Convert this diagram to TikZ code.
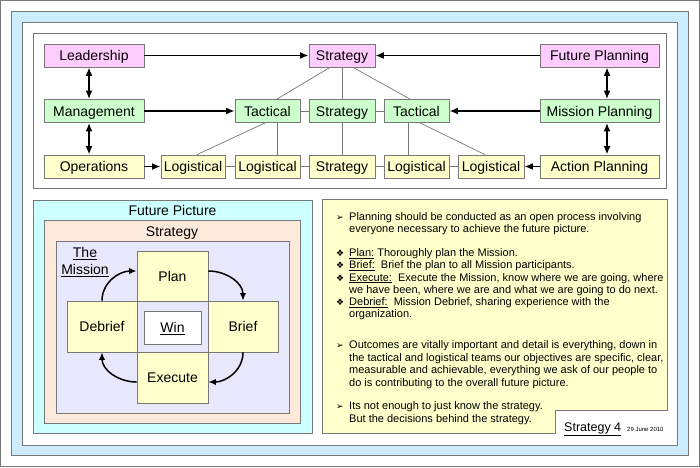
\documentclass[tikz,border=0pt]{standalone}
\usepackage{fontspec}
\setmainfont{Liberation Sans}
\newfontfamily\dejavu{DejaVu Sans}
\usetikzlibrary{arrows.meta}
\definecolor{bord}{RGB}{120,120,120}
\definecolor{pinkF}{RGB}{255,204,255}
\definecolor{greenF}{RGB}{204,255,204}
\definecolor{yellowF}{RGB}{255,255,204}
\definecolor{blueBG}{RGB}{204,236,255}
\definecolor{cyanF}{RGB}{204,255,255}
\definecolor{peachF}{RGB}{253,233,217}
\definecolor{lavF}{RGB}{232,232,252}
\begin{document}
\begin{tikzpicture}[x=1pt,y=1pt,
  box/.style={draw=bord, line width=0.8pt, inner sep=0pt, minimum height=23pt,
    text height=10.4pt, text depth=0pt, font=\fontsize{14}{16}\selectfont},
  cell/.style={draw=bord, line width=0.8pt, inner sep=0pt,
    text height=10.4pt, text depth=0pt, font=\fontsize{14}{16}\selectfont},
  lbl/.style={inner sep=0pt, text height=10.4pt, text depth=0pt, font=\fontsize{14}{16}\selectfont},
  big/.style={line width=1.7pt, -{Latex[length=8.5pt,width=7pt]}},
  dbl/.style={line width=1.7pt, {Latex[length=8.5pt,width=7pt]}-{Latex[length=8.5pt,width=7pt]}},
  cur/.style={line width=1.5pt, -{Latex[length=7.5pt,width=6.5pt]}},
  thinline/.style={draw=bord, line width=0.7pt},
  txt/.style={anchor=base west, inner sep=0pt, font=\fontsize{11}{13}\selectfont},
  bul/.style={anchor=base west, inner sep=0pt, font=\dejavu\fontsize{9}{11}\selectfont},
]
\useasboundingbox (0,0) rectangle (700,467);
% frames
\draw[bord, fill=white] (0.5,0.5) rectangle (699.5,466.5);
\draw[bord, line width=0.8pt, fill=blueBG] (11.5,12) rectangle (688,455.5);
\draw[bord, line width=0.8pt, fill=white] (22,22) rectangle (677,445);
\draw[bord, line width=0.8pt, fill=white] (33,279) rectangle (666,434);

% top panel nodes
\node[box, fill=pinkF, minimum width=100pt] (lead) at (94,411.5) {Leadership};
\node[box, fill=greenF, minimum width=100pt] (mgmt) at (94,356) {Management};
\node[box, fill=yellowF, minimum width=100pt] (ops) at (94,300.5) {Operations};
\node[box, fill=pinkF, minimum width=66pt] (stT) at (342,411.5) {Strategy};
\node[box, fill=greenF, minimum width=65pt] (tacL) at (267.5,356) {Tactical};
\node[box, fill=greenF, minimum width=66pt] (stM) at (342,356) {Strategy};
\node[box, fill=greenF, minimum width=65pt] (tacR) at (416.5,356) {Tactical};
\node[box, fill=yellowF, minimum width=64pt] (log1) at (193,300.5) {Logistical};
\node[box, fill=yellowF, minimum width=65pt] (log2) at (267.5,300.5) {Logistical};
\node[box, fill=yellowF, minimum width=66pt] (stB) at (342,300.5) {Strategy};
\node[box, fill=yellowF, minimum width=65pt] (log4) at (416.5,300.5) {Logistical};
\node[box, fill=yellowF, minimum width=66pt] (log5) at (491,300.5) {Logistical};
\node[box, fill=pinkF, minimum width=119pt] (fut) at (599.5,411.5) {Future Planning};
\node[box, fill=greenF, minimum width=119pt] (mis) at (599.5,356) {Mission Planning};
\node[box, fill=yellowF, minimum width=119pt] (act) at (599.5,300.5) {Action Planning};

% thin connectors
\draw[thinline] (stT) -- (stM);
\draw[thinline] (stM) -- (stB);
\draw[thinline] (tacL) -- (stM);
\draw[thinline] (stM) -- (tacR);
\draw[thinline] (log1) -- (log2);
\draw[thinline] (log2) -- (stB);
\draw[thinline] (stB) -- (log4);
\draw[thinline] (log4) -- (log5);
\draw[thinline] ([xshift=9.5pt]tacL.south) -- ([xshift=9.5pt]log2.north);
\draw[thinline] ([xshift=-8.5pt]tacR.south) -- ([xshift=-8.5pt]log4.north);
\draw[thinline] ([xshift=-12pt]stT.south) -- ([xshift=9.5pt]tacL.north);
\draw[thinline] ([xshift=-2.5pt]tacL.south) -- ([xshift=4pt]log1.north);
\draw[thinline] ([xshift=11pt]stT.south) -- ([xshift=-6.5pt]tacR.north);
\draw[thinline] ([xshift=3.5pt]tacR.south) -- ([xshift=-6pt]log5.north);

% thick arrows
\draw[big] (lead) -- (stT);
\draw[big] (fut) -- (stT);
\draw[big] (mgmt) -- (tacL);
\draw[big] (mis) -- (tacR);
\draw[big] (ops) -- (log1);
\draw[big] (act) -- (log5);
\draw[dbl] ([xshift=-5pt]lead.south) -- ([xshift=-5pt]mgmt.north);
\draw[dbl] ([xshift=-5pt]mgmt.south) -- ([xshift=-5pt]ops.north);
\draw[dbl] ([xshift=7.5pt]fut.south) -- ([xshift=7.5pt]mis.north);
\draw[dbl] ([xshift=7.5pt]mis.south) -- ([xshift=7.5pt]act.north);

% bottom left panel
\draw[bord, line width=0.8pt, fill=cyanF] (33,34) rectangle (312,267);
\node[lbl] (fpic) at (172.5,257) {Future Picture};
\draw[bord, line width=0.8pt, fill=peachF] (44,44) rectangle (300,247);
\node[lbl] (strat) at (172,236) {Strategy};
\draw[bord, line width=0.8pt, fill=lavF] (56,54) rectangle (289,226);
\node[lbl] (the) at (85,215) {\underline{The}};
\node[lbl] (mission) at (85,198) {\underline{Mission}};

\node[cell, fill=yellowF, minimum width=71pt, minimum height=50pt] (plan) at (172.5,191) {Plan};
\node[cell, fill=yellowF, minimum width=70pt, minimum height=51pt] (brief) at (243,140.5) {Brief};
\node[cell, fill=yellowF, minimum width=71pt, minimum height=51pt] (execute) at (172.5,89.5) {Execute};
\node[cell, fill=yellowF, minimum width=70pt, minimum height=51pt] (debrief) at (102,140.5) {Debrief};
\node[cell, fill=lavF, minimum width=71pt, minimum height=51pt] (core) at (172.5,140.5) {};
\node[cell, fill=white, minimum width=57pt, minimum height=33pt] (win) at (172.5,139.5) {\underline{Win}};

\draw[cur] ([yshift=5pt]plan.east) to[out=0,in=90] (brief.north);
\draw[cur] (brief.south) to[out=-90,in=0] ([yshift=-4.5pt]execute.east);
\draw[cur] ([yshift=-4.5pt]execute.west) to[out=180,in=-90] (debrief.south);
\draw[cur] (debrief.north) to[out=90,in=180] ([yshift=5pt]plan.west);

% right text panel
\draw[bord, line width=0.8pt, fill=yellowF] (322,268) -- (667,268) -- (667,57) -- (555,57) -- (555,34) -- (322,34) -- cycle;
\node[bul] (b1) at (336,246.5) {➢};
\node[txt] (t1) at (349,246.5) {Planning should be conducted as an open process involving};
\node[txt] (t2) at (349,234.3) {everyone necessary to achieve the future picture.};
\node[bul] (b2) at (336,210.3) {❖};
\node[txt] (t3) at (349,210.3) {\underline{Plan:} Thoroughly plan the Mission.};
\node[bul] (b3) at (336,198.1) {❖};
\node[txt] (t4) at (349,198.1) {\underline{Brief:}\ \ Brief the plan to all Mission participants.};
\node[bul] (b4) at (336,185.9) {❖};
\node[txt] (t5) at (349,185.9) {\underline{Execute:}\ \ Execute the Mission, know where we are going, where};
\node[txt] (t6) at (349,173.7) {we have been, where we are and what we are going to do next.};
\node[bul] (b5) at (336,161.5) {❖};
\node[txt] (t7) at (349,161.5) {\underline{Debrief:}\ \ Mission Debrief, sharing experience with the};
\node[txt] (t8) at (349,149.3) {organization.};
\node[bul] (b6) at (336,118.5) {➢};
\node[txt] (t9) at (349,118.5) {Outcomes are vitally important and detail is everything, down in};
\node[txt] (t10) at (349,106) {the tactical and logistical teams our objectives are specific, clear,};
\node[txt] (t11) at (349,93.5) {measurable and achievable, everything we ask of our people to};
\node[txt] (t12) at (349,81) {do is contributing to the overall future picture.};
\node[bul] (b7) at (336,57.5) {➢};
\node[txt] (t13) at (349,57.5) {Its not enough to just know the strategy.};
\node[txt] (t14) at (349,45) {But the decisions behind the strategy.};
\node[anchor=base west, inner sep=0pt, font=\fontsize{12.5}{14}\selectfont] (s4) at (564,36) {\underline{Strategy 4}};
\node[anchor=base west, inner sep=0pt, font=\fontsize{6}{7}\selectfont] (date) at (627,36) {29 June 2010};
\end{tikzpicture}
\end{document}
